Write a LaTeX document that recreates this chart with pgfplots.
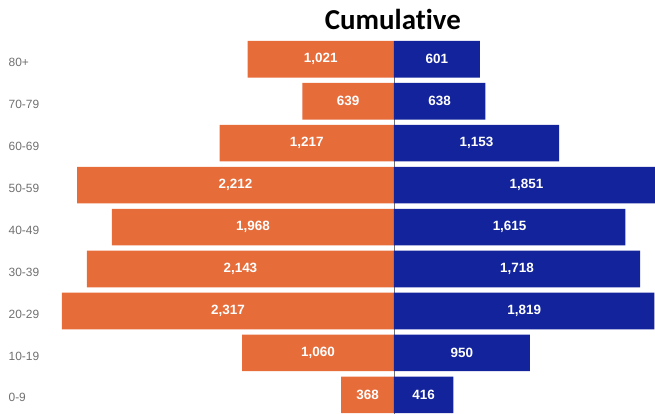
\documentclass[border=0pt]{standalone}
\usepackage{pgfplots}
\pgfplotsset{compat=1.18}
\usepackage{pgfplotstable}
\usepackage{fontspec}
\setmainfont{Liberation Sans}
\newfontfamily\titlefont{Carlito}[Ligatures=NoCommon]
\definecolor{fem}{RGB}{230,108,58}
\definecolor{mal}{RGB}{18,35,155}
\definecolor{lab}{RGB}{112,112,112}

\pgfplotstableread{
y f m
0 368 416
1 1060 950
2 2317 1819
3 2143 1718
4 1968 1615
5 2212 1851
6 1217 1153
7 639 638
8 1021 601
}\pyr

\begin{document}
\begin{tikzpicture}
\begin{axis}[
  scale only axis, width=655bp, height=414bp,
  xmin=-2749, xmax=1822, ymin=-0.453, ymax=9.413,
  axis line style={draw=none},
  xtick=\empty,
  ytick={0,...,8},
  yticklabels={0-9,10-19,20-29,30-39,40-49,50-59,60-69,70-79,80+},
  major tick length=0pt,
  yticklabel style={anchor=west, font=\fontsize{12}{14}\selectfont, text=lab, xshift=5bp, yshift=-3bp},
  xbar, bar width=0.872, bar shift=0pt,
  /pgf/number format/assume math mode=true,
  /pgf/number format/1000 sep={,},
]
\addplot[sharp plot, draw=lab, line width=0.8bp, mark=none] coordinates {(0,-0.453) (0,8.436)};
\addplot[fill=fem, draw=none] table[x expr=-\thisrow{f}, y=y] {\pyr};
\addplot[fill=mal, draw=none] table[x=m, y=y] {\pyr};
\addplot[sharp plot, draw=none, mark=none, point meta=explicit, nodes near coords,
  nodes near coords align={center},
  every node near coord/.append style={anchor=center, text=white, font=\bfseries\fontsize{13.5}{15}\selectfont}]
  table[x expr=-\thisrow{f}/2, y=y, meta=f] {\pyr};
\addplot[sharp plot, draw=none, mark=none, point meta=explicit, nodes near coords,
  nodes near coords align={center},
  every node near coord/.append style={anchor=center, text=white, font=\bfseries\fontsize{13.5}{15}\selectfont}]
  table[x expr=\thisrow{m}/2, y=y, meta=m] {\pyr};
\node[font=\titlefont\bfseries\fontsize{29}{32}\selectfont, anchor=base] at (axis cs:-7,8.72) {Cumulative};
\end{axis}
\end{tikzpicture}
\end{document}
